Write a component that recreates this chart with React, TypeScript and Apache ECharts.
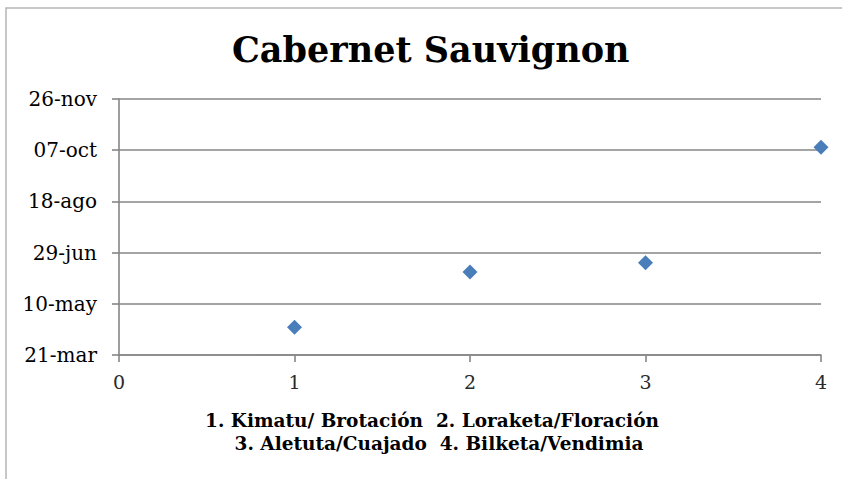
import React, { useEffect, useRef } from "react";
import * as echarts from "echarts";

// ---- data ----
const chartTitle = "Cabernet Sauvignon";
const baseDate = "2013-03-21"; // axis origin (21-mar)
const stageNumbers = [1, 2, 3, 4];
const stageDates = ["2013-04-17", "2013-06-10", "2013-06-19", "2013-10-10"];
const yMinDays = 0;
const yMaxDays = 250;
const yStepDays = 50;
const xMin = 0;
const xMax = 4;
const xStep = 1;
const legendLine1 = "1. Kimatu/ Brotación  2. Loraketa/Floración";
const legendLine2 = "3. Aletuta/Cuajado  4. Bilketa/Vendimia";
const monthNames = ["ene", "feb", "mar", "abr", "may", "jun", "jul", "ago", "sep", "oct", "nov", "dic"];

const DAY = 86400000;
const baseMs = Date.parse(baseDate + "T00:00:00Z");
const toDays = (d: string) => Math.round((Date.parse(d + "T00:00:00Z") - baseMs) / DAY);
const fmtDay = (v: number) => {
  const dt = new Date(baseMs + v * DAY);
  const dd = String(dt.getUTCDate()).padStart(2, "0");
  return dd + "-" + monthNames[dt.getUTCMonth()];
};

export default function App() {
  const ref = useRef<HTMLDivElement>(null);
  useEffect(() => {
    if (!ref.current) return;
    const chart = echarts.init(ref.current, null, { renderer: "svg" });
    const gridColor = "#868686";
    const serif = "DejaVu Serif";
    chart.setOption({
      animation: false,
      backgroundColor: "#ffffff",
      title: {
        text: chartTitle,
        left: 227,
        top: 27,
        textStyle: { fontFamily: serif, fontWeight: "bold", fontSize: 35, color: "#000" },
      },
      grid: { left: 119, right: 21, top: 99, bottom: 124, containLabel: false },
      xAxis: {
        type: "value",
        min: xMin,
        max: xMax,
        interval: xStep,
        axisLine: { show: true, lineStyle: { color: gridColor, width: 1.6 } },
        axisTick: { show: true, length: 7, lineStyle: { color: gridColor, width: 1.6 } },
        axisLabel: { margin: 17, fontFamily: serif, fontSize: 19, color: "#2a2a2a" },
        splitLine: { show: false },
      },
      yAxis: {
        type: "value",
        min: yMinDays,
        max: yMaxDays,
        interval: yStepDays,
        axisLine: { show: true, lineStyle: { color: gridColor, width: 1.6 } },
        axisTick: { show: true, length: 7, lineStyle: { color: gridColor, width: 1.6 } },
        axisLabel: { margin: 22, fontFamily: serif, fontSize: 20, color: "#000", formatter: (v: number) => fmtDay(v) },
        splitLine: { show: true, lineStyle: { color: gridColor, width: 1.6 } },
      },
      series: [
        {
          type: "scatter",
          symbol: "diamond",
          symbolSize: 15,
          itemStyle: { color: "#4a7ebb", opacity: 1 },
          data: stageNumbers.map((n, i) => [n, toDays(stageDates[i])]),
        },
      ],
      graphic: [
        {
          type: "rect",
          shape: { x: 6, y: 8, width: 900, height: 600 },
          style: { fill: "none", stroke: "#b5b5b5", lineWidth: 1.5 },
          silent: true,
        },
        {
          type: "text",
          x: 432,
          y: 420,
          style: {
            text: legendLine1,
            fontFamily: serif,
            fontWeight: "bold",
            fontSize: 18.5,
            fill: "#000",
            textAlign: "center",
            textVerticalAlign: "middle",
          },
        },
        {
          type: "text",
          x: 439,
          y: 443,
          style: {
            text: legendLine2,
            fontFamily: serif,
            fontWeight: "bold",
            fontSize: 18.5,
            fill: "#000",
            textAlign: "center",
            textVerticalAlign: "middle",
          },
        },
      ],
    });
    return () => chart.dispose();
  }, []);
  return <div ref={ref} style={{ position: "absolute", left: 0, top: 0, width: 842, height: 479 }} />;
}
